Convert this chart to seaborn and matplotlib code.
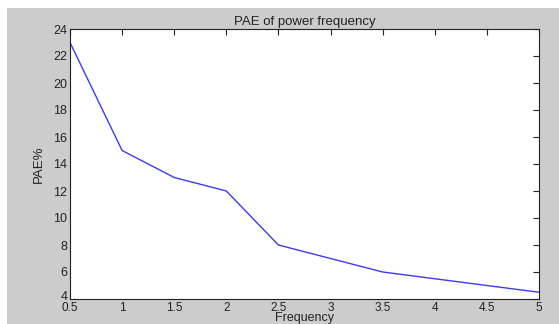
import numpy as np
import matplotlib
matplotlib.use('Agg')
import matplotlib.pyplot as plt
import matplotlib.transforms as mtransforms
import seaborn as sns
import pandas as pd
from matplotlib.patches import Rectangle

# data
frequency = [0.5, 1.0, 1.5, 2.0, 2.5, 3.0, 3.5, 4.0, 4.5, 5.0]
pae = [23, 15, 13, 12, 8, 7, 6, 5.5, 5, 4.5]
x_ticks = [0.5, 1, 1.5, 2, 2.5, 3, 3.5, 4, 4.5, 5]
y_ticks = [4, 6, 8, 10, 12, 14, 16, 18, 20, 22, 24]

sns.set_style('white')
plt.rcParams['font.family'] = ['Liberation Sans', 'DejaVu Sans']

df = pd.DataFrame({'Frequency': frequency, 'PAE': pae})

fig = plt.figure(figsize=(5.59, 3.24), dpi=100, facecolor='white')
# gray MATLAB figure background, with thin white margin top/left
fig.patches.append(Rectangle((7 / 559, 0), 1 - 7 / 559, 1 - 8 / 324,
                             transform=fig.transFigure, facecolor='#cccccc',
                             edgecolor='none', zorder=-10))

ax = fig.add_axes([70 / 559, 1 - 299 / 324, (539 - 70) / 559, (299 - 29) / 324])
sns.lineplot(data=df, x='Frequency', y='PAE', ax=ax, color='#3b3bf0', linewidth=1.0)

ax.set_xlim(0.5, 5)
ax.set_ylim(4, 24)
ax.set_xticks(x_ticks)
ax.set_xticklabels([f'{t:g}' for t in x_ticks])
ax.set_yticks(y_ticks)
ax.tick_params(direction='in', length=4, width=0.8, labelsize=9, colors='#222222',
               top=True, right=True)
ax.tick_params(axis='x', pad=2, labelsize=8.5)
ax.tick_params(axis='y', pad=2)
for s in ax.spines.values():
    s.set_color('#222222')
    s.set_linewidth(0.8)

# lift the bottom y label a little so it sits above the "0.5" like in MATLAB
fig.canvas.draw()
lbl = ax.get_yticklabels()[0]
lbl.set_transform(lbl.get_transform() + mtransforms.ScaledTranslation(0, 4 / 100, fig.dpi_scale_trans))

ax.set_title('PAE of power frequency', fontsize=9.5, pad=3, color='#222222')
ax.set_xlabel('Frequency', fontsize=9, labelpad=-1, color='#222222')
ax.set_ylabel('PAE%', fontsize=9.5, labelpad=6, color='#222222')

fig.savefig('out.png', dpi=100, facecolor=fig.get_facecolor())
